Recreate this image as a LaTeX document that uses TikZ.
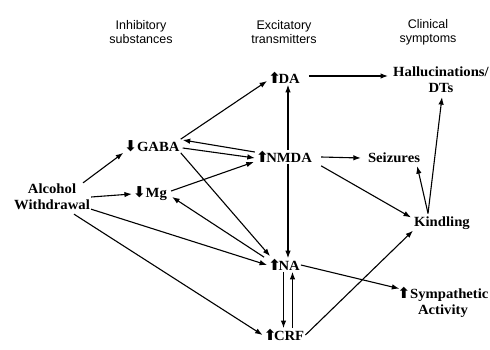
\documentclass[tikz,border=0pt]{standalone}
\usepackage{fontspec}
\setmainfont[FakeStretch=1.05]{Liberation Serif}
\newfontfamily\hdrfont{Liberation Sans}
\newfontfamily\symfont{DejaVu Sans}
\usetikzlibrary{arrows.meta,calc}
\newcommand\upar{{\symfont\fontsize{15}{15}\selectfont ⬆}}
\newcommand\dnar{{\symfont\fontsize{15}{15}\selectfont ⬇}}
\begin{document}
\begin{tikzpicture}[x=1pt,y=-1pt,
  lbl/.style={font=\bfseries\fontsize{14}{16}\selectfont, inner sep=1pt, align=center},
  hdr/.style={font=\hdrfont\fontsize{12.5}{14}\selectfont, inner sep=1pt, align=center},
  conn/.style={line width=1.1pt, -{Latex[length=7.5pt,width=5.5pt]}}]
\useasboundingbox (0,0) rectangle (490,350);
\fill[white] (0,0) rectangle (490,350);
% headers
\node[hdr] (h1) at (141,32) {Inhibitory\\substances};
\node[hdr] (h2) at (284,32) {Excitatory\\transmitters};
\node[hdr] (h3) at (428,32) {Clinical\\symptoms};
% nodes
\node[lbl] (da) at (284,78) {\upar\!DA};
\node[lbl] (hall) at (441,80) {Hallucinations/\\DTs};
\node[lbl] (gaba) at (152,146) {\dnar GABA};
\node[lbl] (nmda) at (284,157) {\upar\!NMDA};
\node[lbl] (seiz) at (394,158) {Seizures};
\node[lbl] (aw) at (52,197) {Alcohol\\Withdrawal};
\node[lbl] (mg) at (150,194) {\dnar Mg};
\node[lbl] (kind) at (442,223) {Kindling};
\node[lbl] (na) at (284,265) {\upar\!NA};
\node[lbl] (symp) at (443,302) {\upar Sympathetic\\Activity};
\node[lbl] (crf) at (284,335) {\upar\!CRF};
% connectors
\draw[conn] ([xshift=-8pt]aw.north east) -- (gaba.south west);
\draw[conn] (aw.east) -- (mg.west);
\draw[conn] ([yshift=2pt]aw.south east) -- (na.west);
\draw[conn] ($(aw.south)+(22,3)$) -- (crf.west);
\draw[conn] (gaba.north east) -- ($(da.west)+(0,3)$);
\draw[conn] ($(gaba.east)+(2,2)$) -- ($(nmda.west)+(0,1)$);
\draw[conn] ($(nmda.west)+(0,-5)$) -- ($(gaba.east)+(2,-6)$);
\draw[conn] (gaba.south east) -- ($(na.north west)+(3,-2)$);
\draw[conn] ($(mg.east)+(3,-3)$) -- ($(nmda.west)+(-1,5)$);
\draw[conn] ($(na.north west)+(-3,-1)$) -- ($(mg.east)+(4,3)$);
\draw[conn] ($(nmda.north)+(4,0)$) -- ($(da.south)+(4,0)$);
\draw[conn] ($(nmda.south)+(4,0)$) -- ($(na.north)+(4,0)$);
\draw[conn] ($(da.east)+(8,-2)$) -- ($(hall.west |- da.east)+(-4,-2)$);
\draw[conn] ($(nmda.east)+(8,0)$) -- ($(seiz.west)+(-6,0)$);
\draw[conn] ($(nmda.south east)+(8,2)$) -- ($(kind.north west)+(-2,2)$);
\draw[conn] ($(kind.north west)+(15,-2)$) -- ($(seiz.south east)+(-4,2)$);
\draw[conn] ($(kind.north west)+(15,-2)$) -- ($(hall.south)+(1,3)$);
\draw[conn] (na.east) -- ($(symp.north west)+(3,3)$);
\draw[conn] ($(na.south)+(-0.5,0)$) -- ($(crf.north)+(-0.5,0)$);
\draw[conn] ($(crf.north)+(8.5,0)$) -- ($(na.south)+(8.5,0)$);
\draw[conn] (crf.east) -- (kind.south west);
\end{tikzpicture}
\end{document}
